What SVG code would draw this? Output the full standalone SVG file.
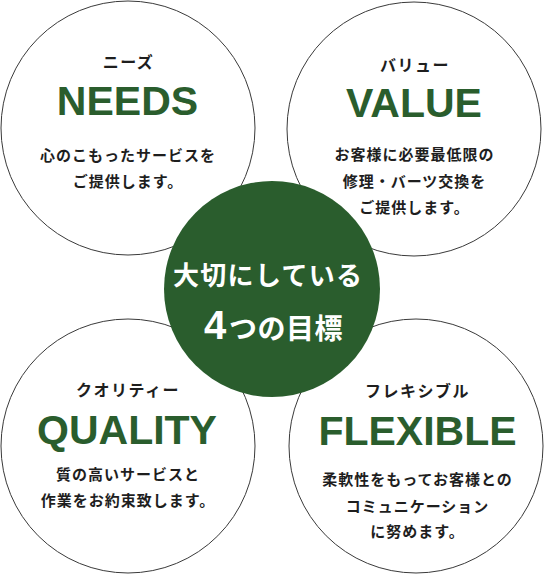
<svg xmlns="http://www.w3.org/2000/svg" width="545" height="575" viewBox="0 0 545 575">
<style>
.ring{fill:#fff;stroke:#3a3a3a;stroke-width:1}
.kana{font-family:"Noto Sans CJK JP","Noto Sans",sans-serif;font-weight:700;font-size:16px;letter-spacing:1.5px;fill:#1e1e1e;text-anchor:middle}
.en{font-family:"Liberation Sans",Arial,sans-serif;font-weight:700;font-size:41px;fill:#2a5d2d;text-anchor:middle}
.body{font-family:"Noto Sans CJK JP","Noto Sans",sans-serif;font-weight:700;font-size:15px;letter-spacing:1px;fill:#1e1e1e;text-anchor:middle}
.hub{fill:#2a5d2d}
.hubt{font-family:"Noto Sans CJK JP","Noto Sans",sans-serif;font-weight:700;fill:#fff}
.num{font-family:"Liberation Sans",Arial,sans-serif;font-weight:700;font-size:40px;fill:#fff}
</style>
<rect width="545" height="575" fill="#fff"/>
<g id="needs">
<circle class="ring" cx="128" cy="128" r="127"/>
<text class="kana" x="128.5" y="67.5">ニーズ</text>
<text class="en" x="127.5" y="115">NEEDS</text>
<text class="body" x="128" y="160.5">心のこもったサービスを</text>
<text class="body" x="128" y="187">ご提供します。</text>
</g>
<g id="value">
<circle class="ring" cx="414" cy="129" r="127"/>
<text class="kana" x="415" y="71">バリュー</text>
<text class="en" x="414" y="117">VALUE</text>
<text class="body" x="414.5" y="160">お客様に必要最低限の</text>
<text class="body" x="414.5" y="187">修理・バーツ交換を</text>
<text class="body" x="414.5" y="213">ご提供します。</text>
</g>
<g id="quality">
<circle class="ring" cx="128" cy="446" r="127"/>
<text class="kana" x="128" y="396">クオリティー</text>
<text class="en" x="127" y="444">QUALITY</text>
<text class="body" x="128" y="480">質の高いサービスと</text>
<text class="body" x="128" y="506">作業をお約束致します。</text>
</g>
<g id="flexible">
<circle class="ring" cx="416" cy="446" r="127"/>
<text class="kana" x="417.5" y="397">フレキシブル</text>
<text class="en" x="417.5" y="445">FLEXIBLE</text>
<text class="body" x="417.5" y="485">柔軟性をもってお客様との</text>
<text class="body" x="417.5" y="511.5">コミュニケーション</text>
<text class="body" x="417.5" y="537">に努めます。</text>
</g>
<g id="center">
<circle class="hub" cx="272" cy="289" r="108"/>
<text class="hubt" x="173" y="285" font-size="26" letter-spacing="1.3">大切にしている</text>
<text class="num" x="204" y="339">4</text>
<text class="hubt" x="229" y="338.5" font-size="28" letter-spacing="0.5">つの目標</text>
</g>
</svg>
